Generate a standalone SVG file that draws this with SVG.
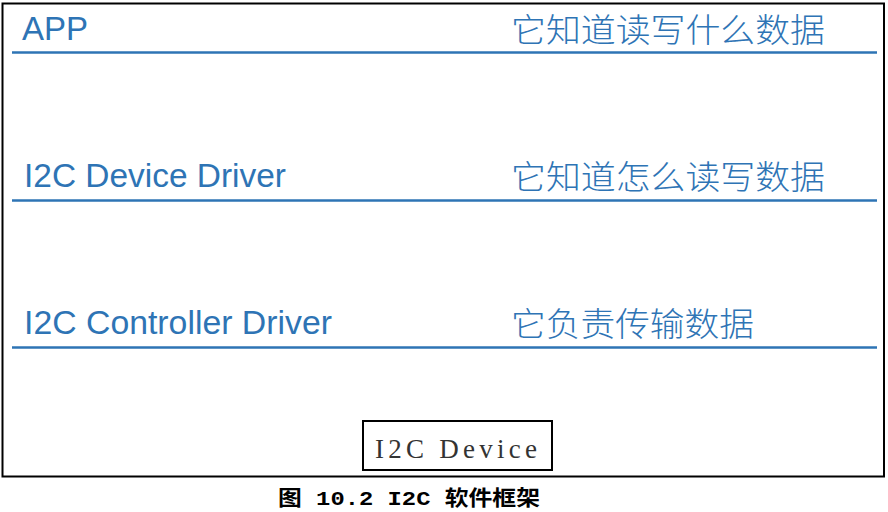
<svg xmlns="http://www.w3.org/2000/svg" width="888" height="512" viewBox="0 0 888 512">
<style>
.en{font-family:"Liberation Sans",Arial,sans-serif;font-size:33px;fill:#2E74B5}
.zh{font-family:"Noto Sans CJK SC",sans-serif;font-size:33px;font-weight:300;fill:#2E74B5}
.sep{stroke:#2E74B5;stroke-width:2.5}
</style>
<rect x="0" y="0" width="888" height="512" fill="#fff"/>
<rect x="2.5" y="3.5" width="881.5" height="473" fill="none" stroke="#000" stroke-width="2"/>
<g id="app">
<text class="en" x="22" y="40">APP</text>
<text class="zh" x="511" y="42" textLength="314" lengthAdjust="spacingAndGlyphs">它知道读写什么数据</text>
<line class="sep" x1="12" y1="52.5" x2="877" y2="52.5"/>
</g>
<g id="device-driver">
<text class="en" x="24" y="187" textLength="262" lengthAdjust="spacingAndGlyphs">I2C Device Driver</text>
<text class="zh" x="511" y="189" textLength="314" lengthAdjust="spacingAndGlyphs">它知道怎么读写数据</text>
<line class="sep" x1="12" y1="200.5" x2="877" y2="200.5"/>
</g>
<g id="controller-driver">
<text class="en" x="24" y="334" textLength="308" lengthAdjust="spacingAndGlyphs">I2C Controller Driver</text>
<text class="zh" x="511" y="336" textLength="243" lengthAdjust="spacingAndGlyphs">它负责传输数据</text>
<line class="sep" x1="12" y1="347.5" x2="877" y2="347.5"/>
</g>
<g id="i2c-device">
<rect x="363" y="421" width="189" height="49" fill="#fff" stroke="#000" stroke-width="2"/>
<text x="375" y="458" font-family="Liberation Serif,serif" font-size="27" fill="#333" textLength="162" lengthAdjust="spacing">I2C Device</text>
</g>
<text x="278" y="505" font-family="Liberation Mono,'Noto Sans CJK SC',monospace" font-size="21" font-weight="bold" fill="#000" textLength="262" lengthAdjust="spacingAndGlyphs">图 10.2 I2C 软件框架</text>
</svg>
